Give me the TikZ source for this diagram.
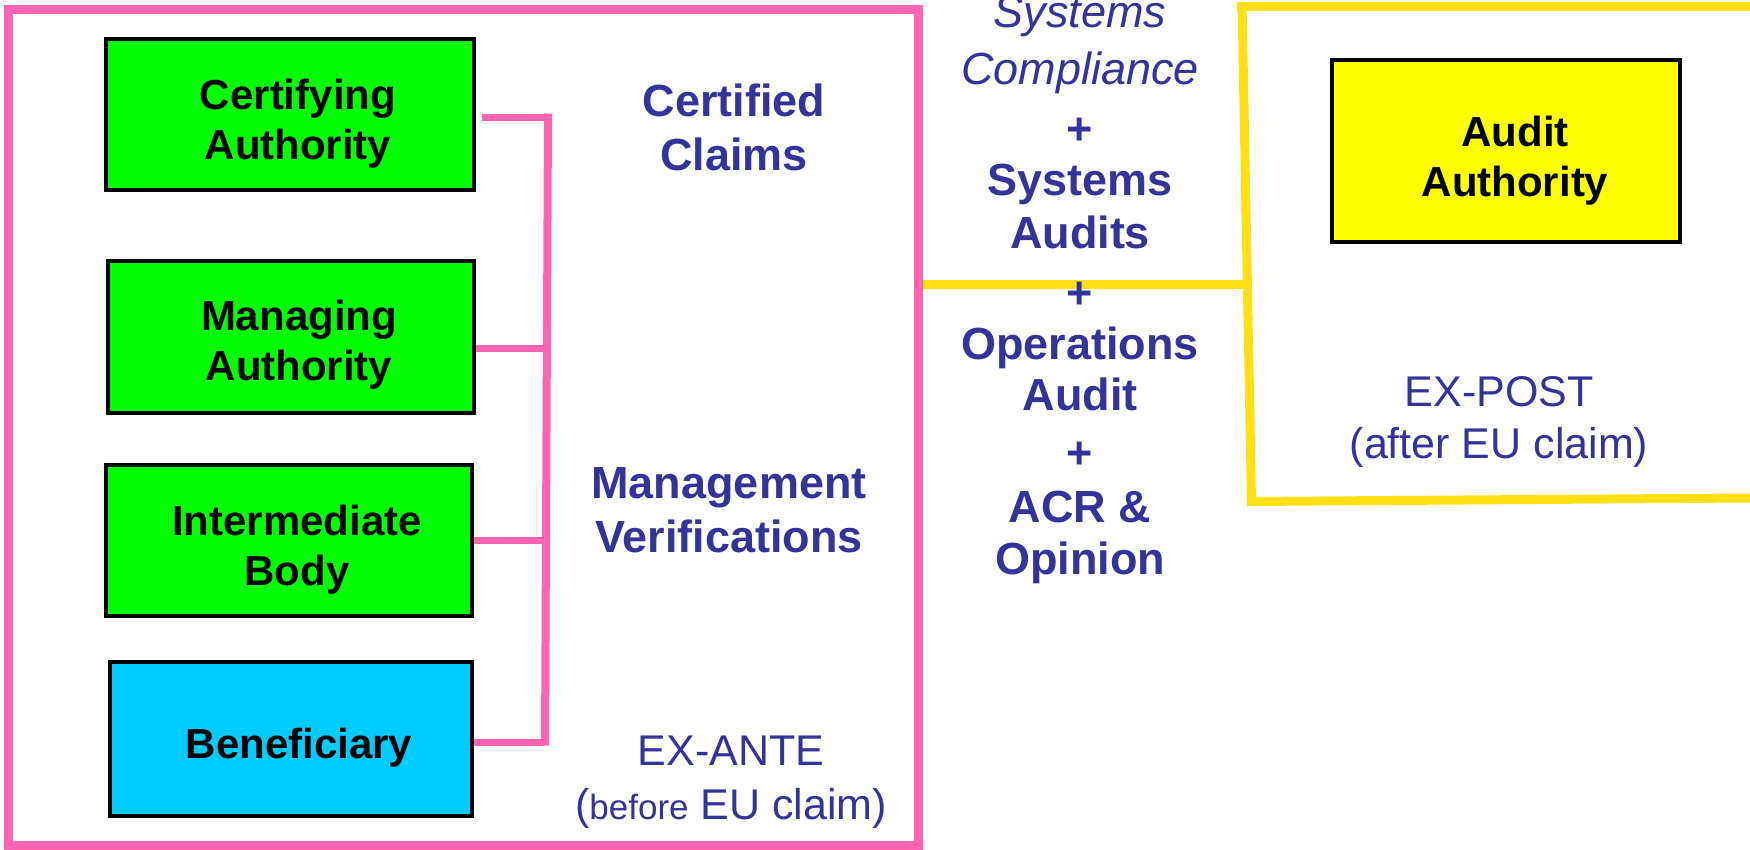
\documentclass[tikz,border=0pt]{standalone}
\usepackage{fontspec}
\setmainfont{Liberation Sans}
\definecolor{pinkc}{HTML}{FF64B1}
\definecolor{yelc}{HTML}{FFE014}
\definecolor{tblue}{HTML}{333399}
\definecolor{gbox}{HTML}{00FF00}
\definecolor{cbox}{HTML}{00CCFF}
\definecolor{ybox}{HTML}{FFFF00}
\begin{document}
\begin{tikzpicture}[x=1pt,y=-1pt,
  box/.style={draw=black, line width=3.5pt, inner sep=0pt},
  boxtext/.style={inner sep=0pt, align=center,
    font=\fontsize{42}{50}\selectfont\bfseries},
  conn/.style={draw=pinkc, line width=7pt},
  frame/.style={line width=9pt},
  lbl/.style={text=tblue, inner sep=0pt, anchor=base},
  bl/.style={lbl, font=\fontsize{45}{54}\selectfont\bfseries},
  rl/.style={lbl, font=\fontsize{43}{52}\selectfont},
  il/.style={lbl, font=\fontsize{45}{54}\selectfont\itshape}]
\useasboundingbox (0,0) rectangle (1750,849);

% yellow frame and link
\draw[yelc, frame] (1237,6.5) -- (1750,6.5);
\draw[yelc, frame] (1242,2) -- (1251.5,501);
\draw[yelc, frame] (1247,501.5) -- (1750,498);
\draw[yelc, frame] (921,284.5) -- (1246,284.5);

% pink frame
\draw[pinkc, frame] (8,9) rectangle (918,845);

% boxes
\node[box, fill=gbox, minimum width=368pt, minimum height=151pt] (ca) at (290,114.5) {};
\node[box, fill=gbox, minimum width=366pt, minimum height=152pt] (ma) at (291,337) {};
\node[box, fill=gbox, minimum width=366pt, minimum height=151pt] (ib) at (289,540.5) {};
\node[box, fill=cbox, minimum width=362pt, minimum height=154pt] (ben) at (291,739) {};
\node[box, fill=ybox, minimum width=348pt, minimum height=182pt] (aa) at (1506,151) {};

\node[boxtext] (cat) at ([shift={(8,9)}]ca.center) {Certifying\\Authority};
\node[boxtext] (mat) at ([shift={(8,8)}]ma.center) {Managing\\Authority};
\node[boxtext] (ibt) at ([shift={(8,9)}]ib.center) {Intermediate\\Body};
\node[boxtext] (bent) at ([shift={(8,9)}]ben.center) {Beneficiary};
\node[boxtext] (aat) at ([shift={(9,10)}]aa.center) {Audit\\Authority};

% pink bus
\coordinate (bt) at (548,117);
\coordinate (bb) at (545,742);
\draw[conn, line width=8pt] ([yshift=3.5pt]bt) -- ([yshift=-3.5pt]bb);
\draw[conn] ([xshift=6pt]ca.east |- bt) -- (bt);
\draw[conn] ([yshift=-11pt]ma.east) -- ++(68,0) coordinate (mstub);
\draw[conn] (ib.east) -- ++(70,0) coordinate (istub);
\draw[conn] ([yshift=-3pt]ben.east) -- ++(70,0) coordinate (bstub);

% left column texts
\node[bl] (cc1) at (734,116) {Certified};
\node[bl] (cc2) at (734,170) {Claims};
\node[bl] (mv1) at (729,498) {Management};
\node[bl] (mv2) at (729,552) {Verifications};
\node[rl] (ea1) at (731,765) {EX-ANTE};
\node[rl] (ea2) at (731,819) {(\fontsize{35}{42}\selectfont before\fontsize{43}{52}\selectfont{} EU claim)};

% middle column
\node[il] (m1) at (1080,27) {Systems};
\node[il] (m2) at (1080,84) {Compliance};
\node[bl] (m3) at (1080,144) {+};
\node[bl] (m4) at (1080,195) {Systems};
\node[bl] (m5) at (1080,248) {Audits};
\node[bl] (m6) at (1080,308) {+};
\node[bl] (m7) at (1080,359) {Operations};
\node[bl] (m8) at (1080,410) {Audit};
\node[bl] (m9) at (1080,468) {+};
\node[bl] (m10) at (1080,522) {ACR \&};
\node[bl] (m11) at (1080,574) {Opinion};

% right texts
\node[rl] (ep1) at (1499,406) {EX-POST};
\node[rl] (ep2) at (1499,458) {(after EU claim)};
\end{tikzpicture}
\end{document}
